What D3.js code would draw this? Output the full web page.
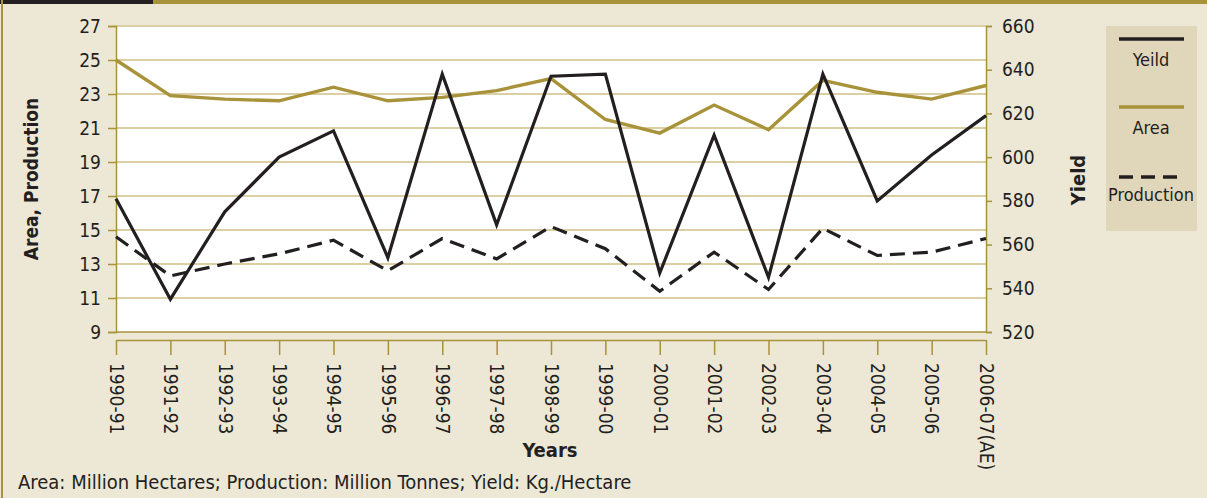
<!DOCTYPE html>
<html>
<head>
<meta charset="utf-8">
<script src="https://cdn.jsdelivr.net/npm/d3@7"></script>
<style>
  body { margin: 0; background: #ede7d6; }
  svg text { font-family: "Liberation Sans Narrow", "DejaVu Sans Condensed", sans-serif; fill: #231f20; }
</style>
</head>
<body>
<div id="chart"></div>
<script>
// season labels along the bottom
var years = ["1990-91", "1991-92", "1992-93", "1993-94", "1994-95", "1995-96", "1996-97", "1997-98",
    "1998-99", "1999-00", "2000-01", "2001-02", "2002-03", "2003-04", "2004-05", "2005-06", "2006-07(AE)"];

// Area (million ha) and Production (million t) on left axis, Yield (kg/ha) on right axis
var area = [25.0, 22.9, 22.7, 22.6, 23.4, 22.6, 22.8, 23.2, 23.9, 21.5, 20.7, 22.35, 20.9, 23.8, 23.1, 22.7, 23.5];
var production = [14.6, 12.3, 13.0, 13.6, 14.4, 12.6, 14.5, 13.3, 15.2, 13.9, 11.4, 13.7, 11.5, 15.1, 13.5, 13.7, 14.5];
var yieldKg = [581, 535, 575, 600, 612, 554, 638, 569, 637, 638, 547, 610, 545, 638, 580, 601, 619];

var leftTicks = [9, 11, 13, 15, 17, 19, 21, 23, 25, 27];
var rightTicks = [520, 540, 560, 580, 600, 620, 640, 660];

var svgWidth = 1207;
var svgHeight = 498;
var gold = "#a8923a";
var dark = "#231f20";

var svg = d3.select("#chart")
    .append("svg")
    .attr("width", svgWidth)
    .attr("height", svgHeight);

// frame: top strip and left rule
svg.append("rect").attr("x", 0).attr("y", 0).attr("width", svgWidth).attr("height", 4).attr("fill", gold);
svg.append("rect").attr("x", 0).attr("y", 0).attr("width", 153).attr("height", 4).attr("fill", dark);
svg.append("rect").attr("x", 1).attr("y", 0).attr("width", 2).attr("height", svgHeight).attr("fill", gold);

var x = d3.scalePoint()
    .domain(years)
    .range([116, 986]);

var yLeft = d3.scaleLinear()
    .domain([9, 27])
    .range([332, 26]);

var yRight = d3.scaleLinear()
    .domain([520, 660])
    .range([332, 26]);

// plot background
svg.append("rect")
    .attr("x", 116).attr("y", 26)
    .attr("width", 870).attr("height", 306)
    .attr("fill", "#ffffff");

// gridlines
svg.append("g")
    .selectAll("line")
    .data(leftTicks.slice(1))
    .enter()
    .append("line")
    .attr("x1", 116).attr("x2", 986)
    .attr("y1", d => yLeft(d)).attr("y2", d => yLeft(d))
    .attr("stroke", "#dccfa3")
    .attr("stroke-width", 2);

svg.append("line")
    .attr("x1", 116).attr("x2", 986)
    .attr("y1", yLeft(9)).attr("y2", yLeft(9))
    .attr("stroke", gold).attr("stroke-width", 1.5);

// left axis
var leftAxis = d3.axisLeft(yLeft).tickValues(leftTicks).tickSize(8).tickPadding(7);
var gl = svg.append("g")
    .attr("transform", "translate(116,0)")
    .call(leftAxis);

// right axis
var rightAxis = d3.axisRight(yRight).tickValues(rightTicks).tickSize(6).tickPadding(10);
var gr = svg.append("g")
    .attr("transform", "translate(986,0)")
    .call(rightAxis);

// bottom axis sits a little below the plot
var bottomAxis = d3.axisBottom(x).tickSize(15).tickPadding(0);
var gb = svg.append("g")
    .attr("transform", "translate(0,340)")
    .call(bottomAxis);

[gl, gr, gb].forEach(function(g) {
    g.select(".domain").attr("stroke", gold).attr("stroke-width", 1.5);
    g.selectAll(".tick line").attr("stroke", gold).attr("stroke-width", 1.5);
    g.selectAll("text").style("font-size", "19px").attr("fill", dark);
});

gb.select(".domain").attr("d", "M116,0.5H986");
gb.selectAll(".tick text")
    .attr("transform", "rotate(90)")
    .attr("x", 23)
    .attr("y", 0)
    .attr("dy", "0.35em")
    .style("text-anchor", "start");

// series
var lineLeft = d3.line()
    .x((d, i) => x(years[i]))
    .y(d => yLeft(d));

var lineRight = d3.line()
    .x((d, i) => x(years[i]))
    .y(d => yRight(d));

svg.append("path")
    .datum(area)
    .attr("d", lineLeft)
    .attr("fill", "none")
    .attr("stroke", gold)
    .attr("stroke-width", 3.4);

svg.append("path")
    .datum(production)
    .attr("d", lineLeft)
    .attr("fill", "none")
    .attr("stroke", dark)
    .attr("stroke-width", 3.2)
    .attr("stroke-dasharray", "15,8");

svg.append("path")
    .datum(yieldKg)
    .attr("d", lineRight)
    .attr("fill", "none")
    .attr("stroke", dark)
    .attr("stroke-width", 3.2);

// axis titles
svg.append("text")
    .attr("transform", "translate(38,179) rotate(-90)")
    .style("text-anchor", "middle")
    .style("font-size", "19px")
    .style("font-weight", "bold")
    .text("Area, Production");

svg.append("text")
    .attr("transform", "translate(1085,180) rotate(-90)")
    .style("text-anchor", "middle")
    .style("font-size", "20px")
    .style("font-weight", "bold")
    .text("Yield");

svg.append("text")
    .attr("x", 550)
    .attr("y", 457)
    .style("text-anchor", "middle")
    .style("font-size", "20px")
    .style("font-weight", "bold")
    .text("Years");

svg.append("text")
    .attr("x", 18)
    .attr("y", 489)
    .style("font-size", "20px")
    .text("Area: Million Hectares; Production: Million Tonnes; Yield: Kg./Hectare");

// legend
var legend = svg.append("g");
legend.append("rect")
    .attr("x", 1106).attr("y", 26)
    .attr("width", 91).attr("height", 205)
    .attr("fill", "#e0d6b9");

var legendItems = [
    {name: "Yeild", color: dark, dash: null, y: 39},
    {name: "Area", color: gold, dash: null, y: 107},
    {name: "Production", color: dark, dash: "14,8", y: 177}
];

legendItems.forEach(function(d) {
    legend.append("line")
        .attr("x1", 1119).attr("x2", d.dash ? 1177 : 1184)
        .attr("y1", d.y).attr("y2", d.y)
        .attr("stroke", d.color)
        .attr("stroke-width", 3.5)
        .attr("stroke-dasharray", d.dash);
    legend.append("text")
        .attr("x", 1151)
        .attr("y", d.y + (d.dash ? 24 : 27))
        .style("text-anchor", "middle")
        .style("font-size", "18px")
        .text(d.name);
});
</script>
</body>
</html>
